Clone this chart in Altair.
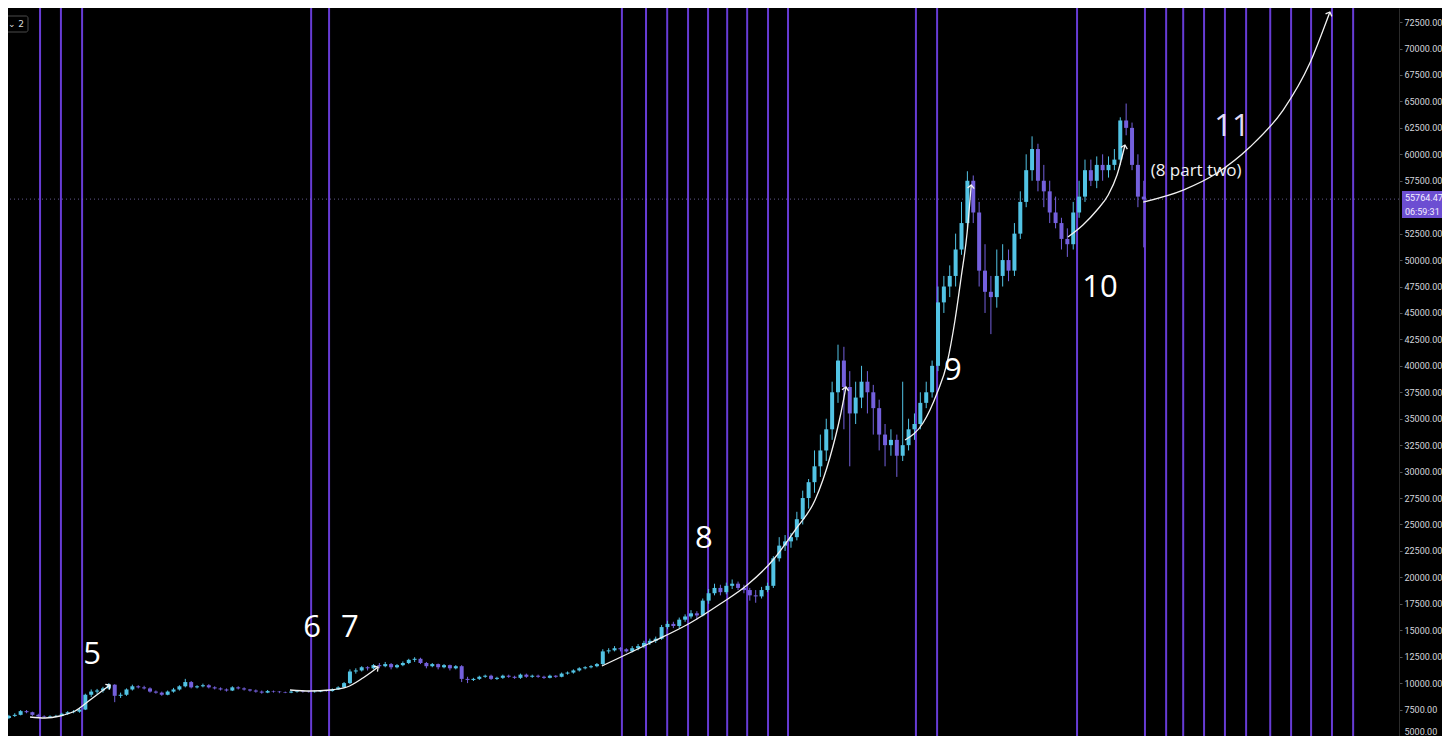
import altair as alt
import pandas as pd

# ---------------- data (2-day candles, day index 0,2,4,...) ----------------
first_open = 6600
closes = [
    6700, 6900, 7000, 7350, 7250, 7000, 6850, 6800, 6850, 6900,
    7100, 7250, 7300, 7500, 8900, 9200, 9300, 9500, 9850, 8800,
    8900, 9400, 9700, 9600, 9500, 9200, 9100, 8900, 9200, 9400,
    9700, 10100, 9600, 9700, 9800, 9600, 9500, 9400, 9300, 9600,
    9500, 9400, 9300, 9200, 9100, 9250, 9200, 9150, 9100, 9200,
    9250, 9200, 9150, 9200, 9300, 9250, 9400, 9600, 10000, 11100,
    11200, 11500, 11400, 11700, 11600, 11800, 11500, 11700, 11900, 12200,
    12300, 11900, 11600, 11800, 11500, 11700, 11400, 11600, 10400, 10300,
    10400, 10600, 10700, 10400, 10500, 10700, 10600, 10500, 10800, 10600,
    10700, 10600, 10500, 10700, 10600, 10900, 11000, 11200, 11400, 11500,
    11600, 11800, 13000, 13100, 13300, 13200, 13000, 13300, 13500, 13800,
    14000, 14200, 15300, 15600, 15400, 16000, 16300, 16600, 16400, 17800,
    18500, 19000, 18600, 19200, 19400, 19000, 18800, 18300, 18200, 18800,
    19200, 21800, 23000, 23400, 23800, 25500, 27500, 29000, 30500, 32000,
    34000, 37500, 40500, 38000, 35500, 37000, 38500, 37500, 36000, 33500,
    32500, 33000, 31500, 32500, 34000, 34500, 36500, 37500, 40000, 46000,
    47500, 48500, 51000, 53500, 57500, 54500, 49000, 47000, 46500, 48500,
    50000, 49000, 52500, 55500, 58500, 60500, 57500, 56500, 54500, 53500,
    52000, 51500, 54500, 56000, 58500, 57500, 59000, 58500, 59000, 59500,
    63200, 62500, 59000, 56000, 55764,
]
highs = [
    6800, 7000, 7150, 7450, 7450, 7300, 7100, 6950, 6950, 7000,
    7200, 7350, 7450, 7650, 9000, 9400, 9450, 9650, 10000, 9900,
    9100, 9500, 9850, 9800, 9750, 9600, 9300, 9200, 9300, 9550,
    9800, 10400, 10200, 9800, 9950, 9900, 9700, 9600, 9500, 9700,
    9700, 9600, 9450, 9400, 9300, 9350, 9300, 9250, 9200, 9300,
    9350, 9300, 9250, 9300, 9350, 9350, 9500, 9700, 10100, 11300,
    11400, 11600, 11600, 11800, 11900, 12000, 11900, 11800, 12050, 12300,
    12450, 12400, 12000, 11900, 11850, 11800, 11750, 11700, 11700, 10600,
    10500, 10700, 10800, 10800, 10600, 10800, 10800, 10700, 10900, 10900,
    10800, 10800, 10700, 10800, 10750, 11000, 11100, 11300, 11500, 11600,
    11700, 11900, 13200, 13300, 13500, 13400, 13300, 13500, 13700, 14000,
    14200, 14400, 15500, 15900, 15800, 16200, 16500, 16900, 16800, 18000,
    18900, 19400, 19300, 19500, 19800, 19600, 19300, 19000, 18800, 19100,
    19500, 22000, 23800, 24000, 24200, 26200, 28200, 29300, 32000, 33500,
    35000, 38500, 42000, 41800, 39500, 38500, 40000, 39500, 38200, 36800,
    34500, 34000, 33500, 38500, 35000, 35500, 37500, 38500, 40500, 47500,
    48500, 49500, 52500, 55500, 58400, 58000, 55500, 51500, 48500, 51000,
    51500, 51000, 53500, 56500, 60000, 61700, 61000, 59000, 57500, 56000,
    54000, 53000, 55500, 57500, 59500, 59500, 59800, 60000, 59800, 60500,
    63500, 64800, 63000, 60000, 57500,
]
lows = [
    6500, 6600, 6800, 6950, 7150, 6900, 6750, 6700, 6700, 6780,
    6850, 7000, 7150, 7200, 7450, 8700, 9000, 9100, 9400, 8200,
    8600, 8800, 9300, 9500, 9400, 9100, 9000, 8800, 8850, 9100,
    9300, 9600, 9500, 9500, 9600, 9500, 9400, 9300, 9200, 9250,
    9400, 9300, 9200, 9100, 9000, 9050, 9100, 9050, 9050, 9050,
    9100, 9100, 9100, 9100, 9150, 9200, 9200, 9350, 9550, 9900,
    10900, 11100, 11200, 11300, 11400, 11500, 11300, 11400, 11600, 11800,
    12000, 11800, 11400, 11500, 11300, 11400, 11200, 11300, 10100, 10000,
    10200, 10300, 10500, 10300, 10300, 10400, 10500, 10400, 10400, 10500,
    10500, 10500, 10400, 10450, 10500, 10550, 10800, 10900, 11100, 11300,
    11400, 11500, 11700, 12800, 13000, 13000, 12900, 12900, 13100, 13300,
    13600, 13800, 14100, 15100, 15200, 15200, 15800, 16100, 16000, 16300,
    17500, 18300, 18300, 18400, 18900, 18800, 18500, 17800, 17600, 18000,
    18600, 19000, 21500, 22500, 22800, 23500, 25000, 26500, 28000, 29500,
    31000, 33000, 36500, 34000, 30500, 34500, 36000, 35500, 33500, 32000,
    30500, 31500, 29500, 31000, 32000, 33000, 34000, 36000, 37000, 39500,
    45000, 46500, 47500, 50500, 53000, 53500, 47500, 45000, 43000, 45500,
    47500, 48000, 48500, 52000, 55000, 57500, 56500, 55000, 53500, 53000,
    51000, 50300, 51000, 54000, 55500, 57000, 56800, 57500, 57800, 58500,
    59000, 61800, 58500, 55000, 51200,
]

cycle_days = [12.6, 19.7, 26.9, 104.8, 110.9, 210.5, 218.7, 225.9, 233.0,
              239.8, 246.3, 253.1, 260.2, 267.0, 310.5, 317.7, 365.3, 388.4,
              395.6, 401.4, 408.5, 415.6, 422.8, 431.0, 438.1, 444.9, 452.0,
              459.2]

curve_ids = ["c5"] * 6 + ["c7"] * 6 + ["c8"] * 11 + ["c9"] * 8 + ["c10"] * 6 + ["c11"] * 7
curve_days = [9.2, 14.3, 19.4, 24.5, 29.6, 36.4,
              97.6, 104.4, 111.2, 117.0, 122.4, 127.6,
              203.7, 220.1, 233.7, 243.9, 253.1, 261.9, 269.4, 276.2, 281.3, 284.7, 286.7,
              306.8, 312.9, 317.7, 321.1, 323.8, 325.9, 327.9, 329.3,
              362.2, 367.3, 372.1, 375.9, 378.9, 381.6,
              387.8, 401.4, 412.9, 424.1, 435.4, 444.5, 451.3]
curve_prices = [6796, 6702, 6891, 7364, 8404, 9822,
                9349, 9255, 9349, 9633, 10484, 11524,
                11619, 13793, 15684, 17481, 19277, 21641, 24477, 27314, 31380, 35162, 37998,
                32987, 34594, 37431, 40267, 44333, 48398, 52559, 57097,
                52180, 53315, 54733, 56152, 58043, 60879,
                55490, 56624, 58232, 60690, 64188, 68632, 73454]
arrow_angles = [53, 54, 11, 5, 15, 21]

label_texts = ["5", "6", "7", "8", "9", "10", "11"]
label_days = [30.3, 105.1, 118.0, 238.4, 323.1, 373.1, 418.0]
label_prices = [12659, 15211, 15211, 23626, 39511, 47358, 62581]
label_colors = ["#ffffff"] * 6 + ["#e4dcf4"]
note_text = ["(8 part two)"]
note_day = [405.8]
note_price = [58421]

last_price = 55764.47
tag_lines = ["55764.47", "06:59:31"]
# axis labels visible in the reference (55000 is hidden behind the price tag)
price_ticks = [5000, 7500, 10000, 12500, 15000, 17500, 20000, 22500, 25000, 27500,
               30000, 32500, 35000, 37500, 40000, 42500, 45000, 47500, 50000, 52500,
               57500, 60000, 62500, 65000, 67500, 70000, 72500]

# ---------------- tables ----------------
opens = [first_open] + closes[:-1]
candles = pd.DataFrame({
    "day": [2 * k for k in range(len(closes))],
    "open": opens, "close": closes, "high": highs, "low": lows,
})
candles["dir"] = ["up" if c >= o else "down" for o, c in zip(opens, closes)]

cycles = pd.DataFrame({"day": cycle_days})
curves = pd.DataFrame({"curve": curve_ids, "day": curve_days, "price": curve_prices,
                       "seq": list(range(len(curve_ids)))})
ends = curves.groupby("curve", sort=False).tail(1).copy()
ends["ang"] = arrow_angles
labels = pd.DataFrame({"t": label_texts, "day": label_days, "price": label_prices,
                       "col": label_colors})
notes = pd.DataFrame({"t": note_text, "day": note_day, "price": note_price})
pricedf = pd.DataFrame({"price": [last_price]})

xs = alt.Scale(domain=[1.7, 474.8], nice=False, zero=False, padding=0)
ys = alt.Scale(domain=[5000, 73835], nice=False, zero=False, padding=0)
AX = alt.Axis(orient="right", values=price_ticks, format=".2f", title=None,
              labelColor="#d4d6dc", labelFontSize=9, labelFont="Roboto",
              tickColor="#555555", tickSize=3, labelPadding=2,
              domainColor="#2b2b2b", grid=False, labelOverlap=False,
              labelFlush=True, labelBound=False)


def X(f="day"):
    return alt.X(f"{f}:Q", scale=xs, axis=None)


def Y(f="price"):
    return alt.Y(f"{f}:Q", scale=ys, axis=AX)


vlines = alt.Chart(cycles).mark_rule(color="#6d3fe0", strokeWidth=2, opacity=0.95).encode(
    x=X())

pline = alt.Chart(pricedf).mark_rule(color="#8a7cc8", strokeDash=[1, 3], strokeWidth=1,
                                     opacity=0.7).encode(y=Y())

colscale = alt.Scale(domain=["up", "down"], range=["#52c3e4", "#7460dc"])
wicks = alt.Chart(candles).mark_rule(strokeWidth=1, clip=True).encode(
    x=X(), y=Y("low"), y2="high:Q",
    color=alt.Color("dir:N", scale=colscale, legend=None))
bodies = alt.Chart(candles).mark_bar(size=4, clip=True).encode(
    x=X(), y=Y("open"), y2="close:Q",
    color=alt.Color("dir:N", scale=colscale, legend=None))

curve_lines = alt.Chart(curves).mark_line(color="#f2f2f2", strokeWidth=1.3,
                                          interpolate="monotone", clip=True).encode(
    x=X(), y=Y(), detail="curve:N", order="seq:Q")
arrows = alt.Chart(ends).mark_point(shape="M-1,1L0,0L1,1", filled=False, size=45,
                                    strokeWidth=1.3, color="#f2f2f2", opacity=1).encode(
    x=X(), y=Y(), angle=alt.Angle("ang:Q", scale=None))

num_labels = alt.Chart(labels).mark_text(fontSize=31, font="Open Sans",
                                         baseline="middle", align="center").encode(
    x=X(), y=Y(), text="t:N", color=alt.Color("col:N", scale=None))
note_labels = alt.Chart(notes).mark_text(fontSize=17, font="Open Sans", color="#f2f2f2",
                                         baseline="middle", align="center").encode(
    x=X(), y=Y(), text="t:N")

# price tag on the axis
tag_box = alt.Chart(pricedf).mark_rect(color="#6c4ed2").encode(
    x=alt.value(1394), x2=alt.value(1442), y=alt.value(183), y2=alt.value(210))
tag_t1 = alt.Chart(pd.DataFrame({"t": [tag_lines[0]]})).mark_text(
    fontSize=9, font="Roboto", color="#f4efff", align="left", baseline="middle").encode(
    x=alt.value(1397), y=alt.value(189.5), text="t:N")
tag_t2 = alt.Chart(pd.DataFrame({"t": [tag_lines[1]]})).mark_text(
    fontSize=9, font="Roboto", color="#f4efff", align="left", baseline="middle").encode(
    x=alt.value(1397), y=alt.value(203.5), text="t:N")

# small interval box at top-left
ui_box = alt.Chart(pricedf).mark_rect(fill="#000000", stroke="#4a4a4a", strokeWidth=1,
                                      cornerRadius=2).encode(
    x=alt.value(-4), x2=alt.value(20), y=alt.value(8), y2=alt.value(24))
ui_txt = alt.Chart(pd.DataFrame({"t": ["⌄ 2"]})).mark_text(
    fontSize=9, font="DejaVu Sans", color="#dddddd", align="center",
    baseline="middle").encode(x=alt.value(8), y=alt.value(16), text="t:N")

chart = alt.layer(
    vlines, pline, wicks, bodies, curve_lines, arrows, num_labels, note_labels,
    tag_box, tag_t1, tag_t2, ui_box, ui_txt,
).properties(
    width=1391, height=728, background="#000000",
    padding={"left": 0, "top": 0, "right": 43, "bottom": 0},
    autosize=alt.AutoSizeParams(type="none"),
).configure_view(strokeWidth=0, fill="#000000")

chart.save("out.html", embed_options={"renderer": "svg", "actions": False})
